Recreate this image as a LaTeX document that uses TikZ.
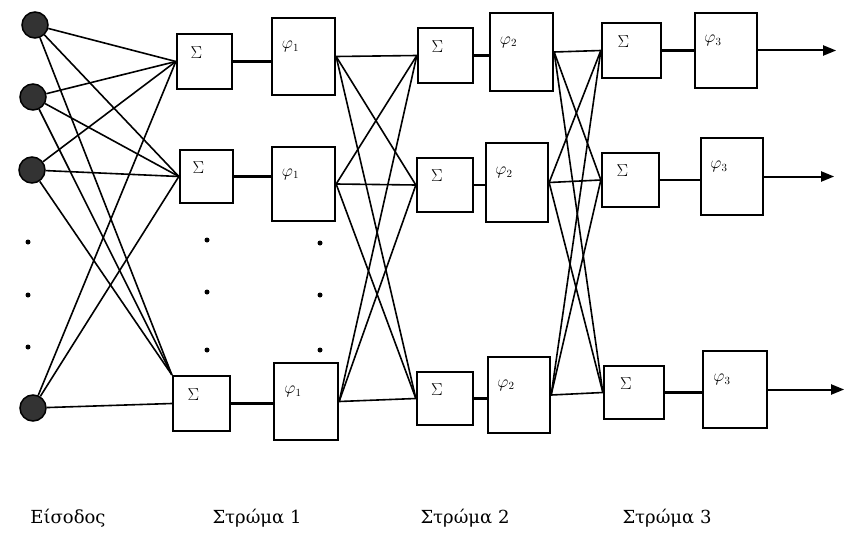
\documentclass[tikz,border=0pt]{standalone}
\usepackage{fontspec}
\setmainfont{DejaVu Serif}
\usetikzlibrary{calc,arrows.meta}
\begin{document}
\begin{tikzpicture}[x=1pt,y=-1pt,
  box/.style={draw, line width=2.3pt, inner sep=0pt},
  sbox/.style={box, minimum width=56pt, minimum height=54pt},
  fbox/.style={box, minimum width=63pt, minimum height=77pt},
  inp/.style={circle, draw, fill=black!80, line width=1.5pt, minimum size=26pt, inner sep=0pt},
  conn/.style={line width=1.6pt},
  rowconn/.style={line width=2.3pt},
  lab/.style={inner sep=0pt, font=\fontsize{16}{16}\selectfont},
  captext/.style={inner sep=0pt, font=\fontsize{18}{18}\selectfont},
  vdot/.style={circle, fill, inner sep=0pt, minimum size=5pt},
  outarrow/.style={line width=2pt, -{Triangle[length=13pt,width=10pt]}}
]
\useasboundingbox (0,0) rectangle (844,535);

% inputs
\node[inp] (x1) at (35,25) {};
\node[inp] (x2) at (33,97) {};
\node[inp] (x3) at (32,170) {};
\node[inp] (x4) at (33,408) {};

% layer 1
\node[sbox, minimum width=55pt, minimum height=55pt] (s1a) at (204.5,61.5) {};
\node[sbox, minimum width=53pt, minimum height=53pt] (s1b) at (206.5,176.5) {};
\node[sbox, minimum width=57pt, minimum height=55pt] (s1c) at (201.5,403.5) {};
\node[fbox, minimum width=63pt, minimum height=77pt] (f1a) at (303.5,56.5) {};
\node[fbox, minimum width=63pt, minimum height=74pt] (f1b) at (303.5,184) {};
\node[fbox, minimum width=64pt, minimum height=77pt] (f1c) at (306,401.5) {};

% layer 2
\node[sbox, minimum width=55pt, minimum height=55pt] (s2a) at (445.5,55.5) {};
\node[sbox, minimum width=56pt, minimum height=54pt] (s2b) at (445,185) {};
\node[sbox, minimum width=56pt, minimum height=53pt] (s2c) at (445,398.5) {};
\node[fbox, minimum width=63pt, minimum height=78pt] (f2a) at (521.5,52) {};
\node[fbox, minimum width=62pt, minimum height=79pt] (f2b) at (517,182.5) {};
\node[fbox, minimum width=62pt, minimum height=76pt] (f2c) at (519,395) {};

% layer 3
\node[sbox, minimum width=59pt, minimum height=55pt] (s3a) at (631.5,50.5) {};
\node[sbox, minimum width=57pt, minimum height=54pt] (s3b) at (630.5,180) {};
\node[sbox, minimum width=60pt, minimum height=53pt] (s3c) at (634,392.5) {};
\node[fbox, minimum width=62pt, minimum height=75pt] (f3a) at (726,50.5) {};
\node[fbox, minimum width=62pt, minimum height=77pt] (f3b) at (732,176.5) {};
\node[fbox, minimum width=64pt, minimum height=77pt] (f3c) at (735,389.5) {};

% box labels
\foreach \b in {s1a,s1b,s1c,s2a,s2b,s2c,s3a,s3b,s3c}
  \node[lab] (\b-t) at ($(\b.center)+(-8,-9)$) {$\Sigma$};
\foreach \b/\i in {f1a/1,f1b/1,f1c/1,f2a/2,f2b/2,f2c/2,f3a/3,f3b/3,f3c/3}
  \node[lab] (\b-t) at ($(\b.center)+(-13,-10)$) {$\varphi_{\i}$};

% dots
\node[vdot] (d1) at (28,242) {};
\node[vdot] (d2) at (28,295) {};
\node[vdot] (d3) at (28,347) {};
\node[vdot] (d4) at (207,240) {};
\node[vdot] (d5) at (207,292) {};
\node[vdot] (d6) at (207,350) {};
\node[vdot] (d7) at (320,243) {};
\node[vdot] (d8) at (320,295) {};
\node[vdot] (d9) at (320,350) {};

% inputs -> layer 1
\foreach \a in {x1,x2,x3,x4}
  \foreach \b in {s1a,s1b}
    \draw[conn] (\a) -- (\b.west);
\foreach \a in {x1,x2,x3}
  \draw[conn] (\a) -- (s1c.north west);
\draw[conn] (x4) -- (s1c.west);

% sigma -> phi
\foreach \s/\f in {s1a/f1a,s1b/f1b,s1c/f1c,s2a/f2a,s2b/f2b,s2c/f2c,s3a/f3a,s3b/f3b,s3c/f3c}
  \draw[rowconn] (\s.east) -- (\s.east -| \f.west);

% full connections between layers
\foreach \a in {f1a,f1b,f1c}
  \foreach \b in {s2a,s2b,s2c}
    \draw[conn] (\a.east) -- (\b.west);
\foreach \a in {f2a,f2b,f2c}
  \foreach \b in {s3a,s3b,s3c}
    \draw[conn] (\a.east) -- (\b.west);

% outputs
\draw[outarrow] (f3a.east) -- ++(78,0) coordinate (o1);
\draw[outarrow] (f3b.east) -- ++(70,0) coordinate (o2);
\draw[outarrow] (f3c.east) -- ++(76,0) coordinate (o3);

% captions
\node[captext] (c0) at (68,518) {Είσοδος};
\node[captext] (c1) at (257,518) {Στρώμα 1};
\node[captext] (c2) at (465,518) {Στρώμα 2};
\node[captext] (c3) at (667,518) {Στρώμα 3};
\end{tikzpicture}
\end{document}
